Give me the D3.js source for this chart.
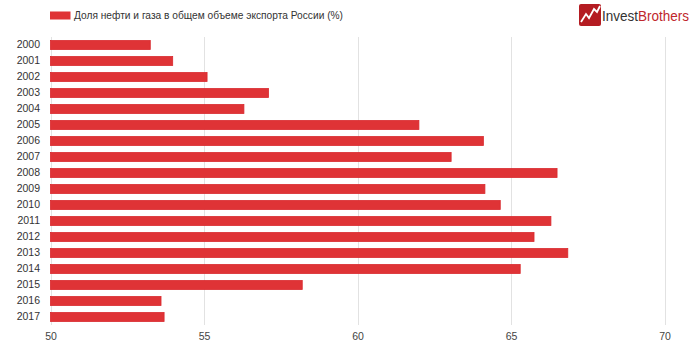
<!DOCTYPE html>
<html>
<head>
<meta charset="utf-8">
<script src="https://cdn.jsdelivr.net/npm/d3@7/dist/d3.min.js"></script>
<style>
  html, body { margin: 0; padding: 0; background: #fff; }
  svg { display: block; font-family: "Liberation Sans", Arial, sans-serif; }
</style>
</head>
<body>
<svg id="chart" width="699" height="360"></svg>
<script>
const years = ["2000","2001","2002","2003","2004","2005","2006","2007","2008","2009","2010","2011","2012","2013","2014","2015","2016","2017"];
const values = [53.25, 53.98, 55.1, 57.1, 56.3, 62.0, 64.1, 63.05, 66.5, 64.15, 64.65, 66.3, 65.75, 66.85, 65.3, 58.2, 53.6, 53.7];
const xTicks = [50, 55, 60, 65, 70];
const seriesName = "Доля нефти и газа в общем объеме экспорта России (%)";

const svg = d3.select("#chart");
const x = d3.scaleLinear().domain([50, 70]).range([50.5, 664.5]);
const y = d3.scaleBand().domain(years).range([37, 325]).paddingInner(0.44).paddingOuter(0.22);

// gridlines
svg.append("g").selectAll("line").data(xTicks).join("line")
  .attr("x1", d => Math.round(x(d)) + 0.5).attr("x2", d => Math.round(x(d)) + 0.5)
  .attr("y1", 37).attr("y2", 325)
  .attr("stroke", "#e2e2e2").attr("stroke-width", 1);

// x axis labels
const xAxis = d3.axisBottom(x).tickValues(xTicks).tickSize(0).tickPadding(0);
const gx = svg.append("g").attr("transform", "translate(0,333)").call(xAxis);
gx.select(".domain").remove();
gx.selectAll("text").attr("font-size", 10.5).attr("fill", "#444")
  .attr("font-family", "'Liberation Sans', Arial, sans-serif").attr("dy", "0.71em");

// y axis labels
const yAxis = d3.axisLeft(y).tickSize(0).tickPadding(0);
const gy = svg.append("g").attr("transform", "translate(40,0)").call(yAxis);
gy.select(".domain").remove();
gy.selectAll("text").attr("font-size", 10.5).attr("fill", "#333")
  .attr("font-family", "'Liberation Sans', Arial, sans-serif");

// bars
svg.append("g").selectAll("rect").data(years).join("rect")
  .attr("x", x(50))
  .attr("y", d => y(d))
  .attr("width", (d, i) => x(values[i]) - x(50))
  .attr("height", y.bandwidth())
  .attr("fill", "#df3336")
  .attr("stroke", "#d9292d").attr("stroke-width", 0.8);

// legend
const lg = svg.append("g");
lg.append("rect").attr("x", 50).attr("y", 11.5).attr("width", 20.5).attr("height", 8).attr("fill", "#df3336");
lg.append("text").attr("x", 74).attr("y", 19).attr("font-size", 11).attr("fill", "#333")
  .attr("textLength", 269).attr("lengthAdjust", "spacingAndGlyphs").text(seriesName);

// logo
const logo = svg.append("g");
logo.append("rect").attr("x", 579).attr("y", 4).attr("width", 22).attr("height", 22).attr("rx", 2).attr("fill", "#b41c22");
logo.append("polyline")
  .attr("points", "581,22 586,14 589,18 594,9 597,12 600,6")
  .attr("fill", "none").attr("stroke", "#fff").attr("stroke-width", 1.8).attr("stroke-linejoin", "miter");
const lt = logo.append("text").attr("x", 602).attr("y", 21).attr("font-size", 14)
  .attr("textLength", 87).attr("lengthAdjust", "spacingAndGlyphs");
lt.append("tspan").attr("fill", "#333").text("Invest");
lt.append("tspan").attr("fill", "#c0262c").text("Brothers");
</script>
</body>
</html>
